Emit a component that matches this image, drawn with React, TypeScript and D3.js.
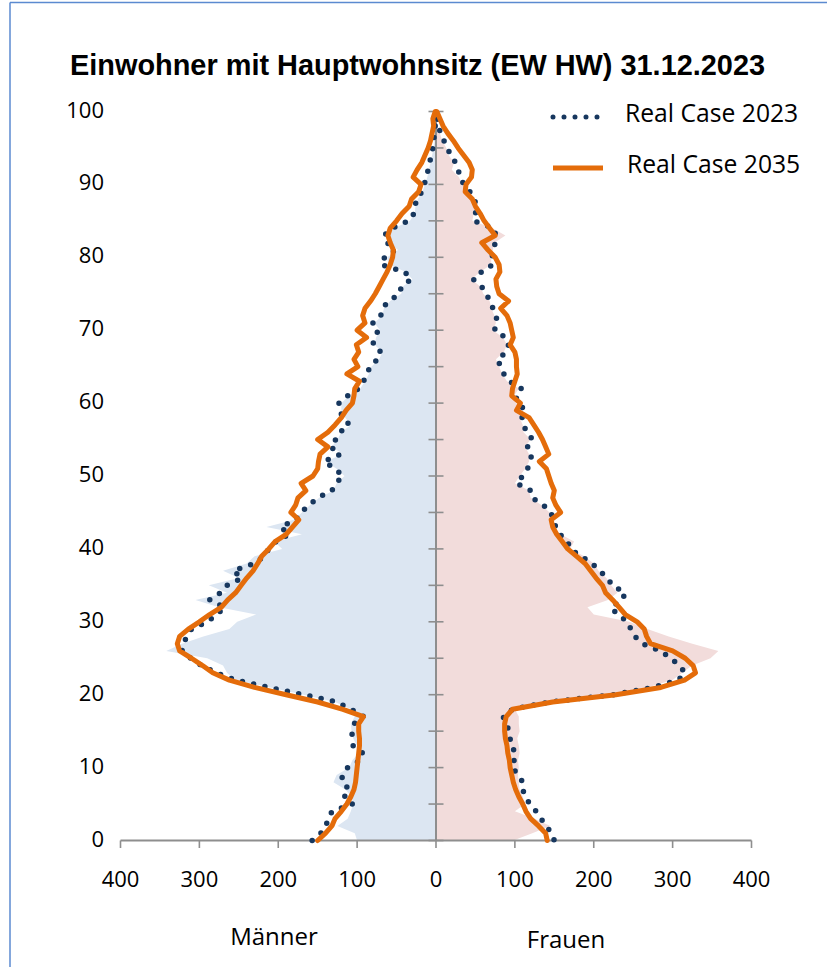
import React from "react";
import * as d3 from "d3";

// Einwohner mit Hauptwohnsitz, Alterspyramide (Werte je Altersjahr 0..100)
const title = "Einwohner mit Hauptwohnsitz (EW HW) 31.12.2023";
const legendNames = ["Real Case 2023", "Real Case 2035"];
const sideLabels = ["Männer", "Frauen"];
const ages = d3.range(0, 101);
const yTicks = [0, 10, 20, 30, 40, 50, 60, 70, 80, 90, 100];
const minorAges = d3.range(0, 101, 5);
const xTicks = [-400, -300, -200, -100, 0, 100, 200, 300, 400];

// hinterlegte Fläche
const menArea = [
  100, 103, 125, 112, 108, 105, 107, 115, 130, 126,
  110, 106, 98, 100, 105, 107, 108, 103, 108, 128,
  168, 210, 255, 265, 270, 290, 342, 322, 295, 262,
  252, 228, 275, 305, 265, 288, 250, 270, 240, 230,
  195, 205, 170, 215, 180, 170, 160, 148, 130, 126,
  116, 126, 140, 118, 132, 125, 120, 108, 115, 120,
  120, 110, 96, 90, 85, 82, 72, 68, 78, 76,
  71, 78, 68, 66, 58, 44, 42, 30, 38, 60,
  62, 48, 60, 64, 53, 33, 27, 26, 23, 17,
  14, 11, 9, 7, 5, 3, 2, 1, 1, 0, 0,
];
const womenArea = [
  98, 122, 145, 125, 100, 113, 110, 106, 105, 104,
  105, 104, 106, 105, 103, 106, 105, 105, 100, 140,
  222, 268, 300, 312, 325, 348, 358, 325, 295, 268,
  245, 200, 192, 218, 230, 222, 216, 206, 200, 188,
  170, 175, 158, 150, 146, 144, 134, 120, 118, 100,
  106, 113, 118, 118, 113, 120, 111, 110, 106, 110,
  101, 99, 105, 90, 84, 80, 76, 86, 90, 85,
  72, 76, 74, 70, 68, 60, 56, 45, 56, 70,
  70, 72, 74, 88, 72, 46, 48, 50, 46, 41,
  33, 29, 20, 23, 16, 13, 8, 5, 2, 1, 0,
];

// Real Case 2023 (gepunktet)
const men2023 = [
  157, 146, 140, 136, 132, 106, 116, 110, 119, 119,
  112, 96, 93, 105, 107, 106, 104, 92, 108, 126,
  168, 212, 254, 279, 297, 311, 322, 320, 316, 310,
  290, 278, 268, 287, 273, 265, 246, 257, 230, 218,
  212, 203, 186, 197, 178, 171, 161, 150, 132, 127,
  118, 128, 142, 121, 134, 127, 122, 110, 117, 123,
  123, 112, 98, 92, 87, 84, 74, 70, 80, 78,
  73, 80, 70, 68, 60, 46, 44, 31, 40, 70,
  65, 52, 62, 66, 55, 35, 28, 27, 24, 18,
  15, 12, 10, 8, 6, 4, 3, 2, 1, 1, 0,
];
const women2023 = [
  150, 146, 140, 133, 127, 119, 113, 110, 110, 104,
  97, 99, 101, 95, 94, 92, 90, 85, 97, 144,
  225, 275, 307, 316, 308, 298, 284, 262, 252, 247,
  243, 230, 222, 236, 240, 223, 218, 207, 198, 184,
  170, 167, 157, 152, 148, 146, 136, 122, 120, 102,
  110, 116, 120, 121, 116, 123, 114, 112, 109, 113,
  104, 101, 108, 93, 86, 82, 78, 89, 92, 88,
  74, 78, 76, 72, 70, 62, 58, 47, 58, 72,
  71, 73, 75, 76, 73, 48, 50, 52, 48, 43,
  35, 31, 28, 25, 18, 15, 10, 6, 3, 2, 1,
];

// Real Case 2035 (Linie)
const men2035 = [
  150, 140, 132, 128, 120, 113, 108, 104, 102, 101,
  100, 99, 98, 97, 97, 98, 98, 92, 118, 150,
  190, 230, 262, 283, 296, 310, 325, 328, 325, 314,
  300, 287, 272, 264, 254, 247, 240, 232, 226, 221,
  212, 204, 190, 182, 174, 184, 178, 175, 165, 171,
  156, 150, 149, 147, 137, 150, 137, 128, 120, 114,
  106, 104, 103, 97, 113, 99, 104, 98, 101, 88,
  100, 90, 93, 90, 83, 77, 72, 67, 62, 58,
  55, 54, 58, 61, 58, 50, 43, 34, 31, 22,
  19, 29, 24, 18, 14, 10, 7, 5, 3, 4, 1,
];
const women2035 = [
  141, 139, 130, 120, 114, 110, 105, 101, 98, 96,
  94, 93, 91, 90, 88, 87, 87, 89, 97, 148,
  228, 285, 315, 329, 326, 316, 300, 272, 267, 264,
  255, 240, 232, 224, 215, 211, 203, 196, 189, 178,
  167, 160, 153, 148, 146, 158, 152, 148, 150, 146,
  143, 140, 131, 143, 139, 135, 130, 124, 118, 102,
  107, 96, 97, 100, 103, 102, 102, 100, 94, 98,
  96, 94, 90, 82, 92, 80, 77, 76, 81, 80,
  75, 66, 58, 75, 68, 61, 56, 50, 46, 37,
  38, 45, 46, 42, 35, 28, 22, 15, 9, 5, 1,
];

const W = 827;
const H = 967;
const axisGray = "#8e8e8e";
const navy = "#17375e";
const orange = "#e46c0a";
const tickFont = "'Open Sans', sans-serif";

const x = d3.scaleLinear().domain([-400, 400]).range([120.5, 751.5]);
const y = d3.scaleLinear().domain([0, 100]).range([840.5, 111.5]);

function sidePath(values: number[], sign: number) {
  return d3
    .area<number>()
    .y((_, i) => y(ages[i]))
    .x0(x(0))
    .x1((d) => x(sign * d))(values) as string;
}

function pyramidLine(men: number[], women: number[]) {
  const pts: [number, number][] = [
    ...ages.map((a) => [x(-men[a]), y(a)] as [number, number]),
    ...ages
      .slice()
      .reverse()
      .map((a) => [x(women[a]), y(a)] as [number, number]),
  ];
  return d3.line()(pts) as string;
}

export default function App() {
  const axisY = y(0);
  return (
    <svg
      width={W}
      height={H}
      style={{ position: "absolute", left: 0, top: 0, background: "#fff" }}
    >
      {/* frame */}
      <line x1={10} y1={2.5} x2={W} y2={2.5} stroke="#5b8ad0" strokeWidth={1.5} />
      <line x1={10} y1={2.5} x2={10} y2={H} stroke="#5b8ad0" strokeWidth={1.5} />

      <text
        x={70}
        y={75}
        fontFamily="'Liberation Sans', Arial, sans-serif"
        fontWeight="bold"
        fontSize={28.9}
        fill="#000"
      >
        {title}
      </text>

      {/* filled areas */}
      <path d={sidePath(menArea, -1)} fill="#dce6f2" />
      <path d={sidePath(womenArea, 1)} fill="#f2dcdb" />

      {/* center axis with minor ticks */}
      <line x1={x(0)} x2={x(0)} y1={y(100) - 1} y2={axisY} stroke={axisGray} strokeWidth={2} />
      {minorAges.map((a) => (
        <line
          key={"m" + a}
          x1={x(0) - 7.5}
          x2={x(0) + 7.5}
          y1={y(a)}
          y2={y(a)}
          stroke={axisGray}
          strokeWidth={1.6}
        />
      ))}

      {/* x axis */}
      <line x1={x(-400)} x2={x(400)} y1={axisY} y2={axisY} stroke={axisGray} strokeWidth={2} />
      {xTicks.map((t) => (
        <g key={"x" + t}>
          <line x1={x(t)} x2={x(t)} y1={axisY} y2={axisY + 7.5} stroke={axisGray} strokeWidth={1.6} />
          <text
            x={x(t)}
            y={887}
            textAnchor="middle"
            fontFamily={tickFont}
            fontSize={22}
            fill="#000"
          >
            {Math.abs(t)}
          </text>
        </g>
      ))}

      {/* y labels */}
      {yTicks.map((t) => (
        <text
          key={"y" + t}
          x={104}
          y={y(t) + 6}
          textAnchor="end"
          fontFamily={tickFont}
          fontSize={22}
          fill="#000"
        >
          {t}
        </text>
      ))}

      {/* series */}
      <path
        d={pyramidLine(men2023, women2023)}
        fill="none"
        stroke={navy}
        strokeWidth={5.5}
        strokeLinecap="round"
        strokeDasharray="0 11.5"
      />
      <path
        d={pyramidLine(men2035, women2035)}
        fill="none"
        stroke={orange}
        strokeWidth={5}
        strokeLinejoin="round"
        strokeLinecap="round"
      />

      {/* legend */}
      <line
        x1={553}
        x2={600}
        y1={117}
        y2={117}
        stroke={navy}
        strokeWidth={5}
        strokeLinecap="round"
        strokeDasharray="0 11"
      />
      <text x={625} y={122} fontFamily={tickFont} fontSize={24.7} fill="#000">
        {legendNames[0]}
      </text>
      <line x1={553} x2={603} y1={168} y2={168} stroke={orange} strokeWidth={5} />
      <text x={627} y={173} fontFamily={tickFont} fontSize={24.7} fill="#000">
        {legendNames[1]}
      </text>

      {/* side labels */}
      <text x={274} y={945} textAnchor="middle" fontFamily={tickFont} fontSize={24} fill="#000">
        {sideLabels[0]}
      </text>
      <text x={566} y={948} textAnchor="middle" fontFamily={tickFont} fontSize={24} fill="#000">
        {sideLabels[1]}
      </text>
    </svg>
  );
}
